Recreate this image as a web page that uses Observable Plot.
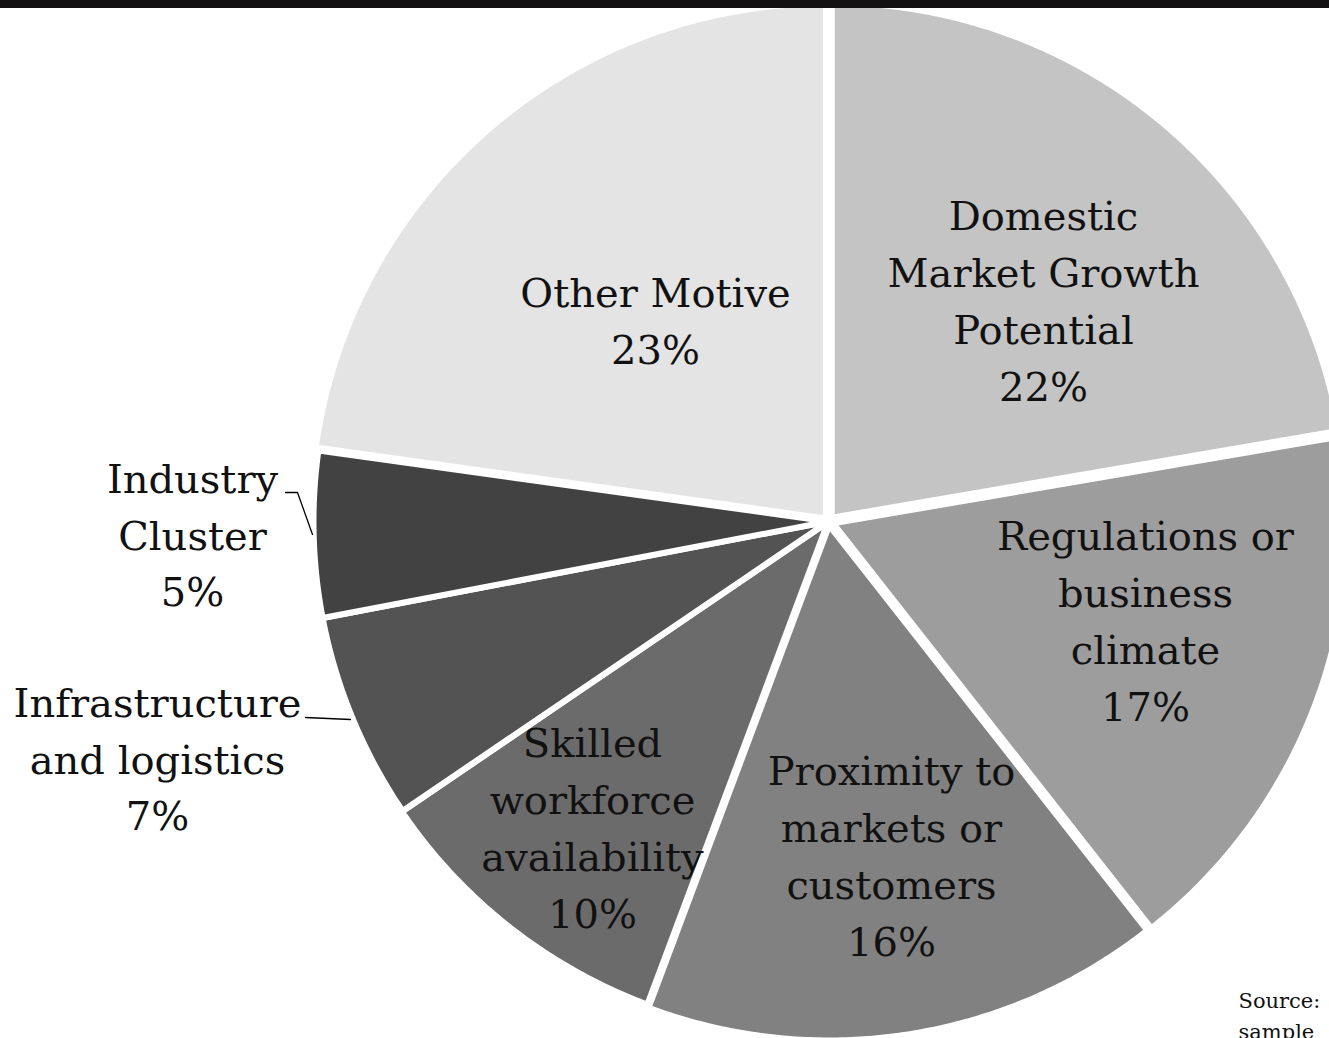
<!DOCTYPE html>
<html>
<head>
<meta charset="utf-8">
<script src="https://cdn.jsdelivr.net/npm/d3@7"></script>
<script src="https://cdn.jsdelivr.net/npm/@observablehq/plot@0.6"></script>
<style>
  html, body { margin: 0; padding: 0; background: #fff; overflow: hidden; }
  #bar { height: 8px; background: #141113; width: 1329px; }
  #chart svg { display: block; }
</style>
</head>
<body>
<div id="bar"></div>
<div id="chart"></div>
<script>
// ---- data ----
const categories = [
  "Domestic Market Growth Potential",
  "Regulations or business climate",
  "Proximity to markets or customers",
  "Skilled workforce availability",
  "Infrastructure and logistics",
  "Industry Cluster",
  "Other Motive"
];
// slice sizes (percent)
const shares = [22.3, 17.1, 16.3, 9.8, 6.5, 5.2, 22.8];
// printed percentage labels
const pctLabels = ["22%", "17%", "16%", "10%", "7%", "5%", "23%"];
const labelLines = [
  "Domestic\nMarket Growth\nPotential",
  "Regulations or\nbusiness\nclimate",
  "Proximity to\nmarkets or\ncustomers",
  "Skilled\nworkforce\navailability",
  "Infrastructure\nand logistics",
  "Industry\nCluster",
  "Other Motive"
];
const grays = ["#c4c4c4", "#9d9d9d", "#818181", "#6b6b6b", "#535353", "#424242", "#e4e4e4"];
const sourceLines = ["Source:", "sample"];

// ---- layout ----
const W = 1329, H = 1030;
const cx = 828, cy = 513, R = 515;
const explode = [5, 5, 4, 1, 0, 0, 4];
const labelPos = [
  [1043, 289], [1145, 609], [891, 844], [592, 816], [157, 747], [192, 523], [655, 309]
];

const total = d3.sum(shares);
let acc = 0;
const slices = shares.map((v, i) => {
  const a0 = acc / total * 2 * Math.PI;
  acc += v;
  const a1 = acc / total * 2 * Math.PI;
  const am = (a0 + a1) / 2;
  const ox = explode[i] * Math.sin(am), oy = -explode[i] * Math.cos(am);
  const pts = [{x: cx + ox, y: cy + oy}];
  const n = Math.max(8, Math.ceil((a1 - a0) / (Math.PI / 360)));
  for (let k = 0; k <= n; k++) {
    const t = a0 + (a1 - a0) * k / n;
    pts.push({x: cx + ox + R * Math.sin(t), y: cy + oy - R * Math.cos(t)});
  }
  pts.push({x: cx + ox, y: cy + oy});
  return {name: categories[i], color: grays[i], pts};
});

const labels = categories.map((c, i) => ({
  text: labelLines[i] + "\n" + pctLabels[i],
  x: labelPos[i][0], y: labelPos[i][1]
}));

const leaders = [
  [{x: 285, y: 484}, {x: 297, y: 484}, {x: 312, y: 526}],
  [{x: 305, y: 709}, {x: 350, y: 711}]
];

const font = "'DejaVu Serif', 'Liberation Serif', serif";

const marks = [];
slices.forEach(s => {
  marks.push(Plot.line(s.pts, {
    x: "x", y: "y", fill: s.color, stroke: "white", strokeWidth: 6,
    strokeLinejoin: "round", curve: "linear"
  }));
});
leaders.forEach(l => {
  marks.push(Plot.line(l, {x: "x", y: "y", stroke: "black", strokeWidth: 1.3}));
});
marks.push(Plot.text(labels, {
  x: "x", y: "y", text: "text", fontSize: 40, fontFamily: font,
  lineHeight: 1.42, textAnchor: "middle", fill: "#111"
}));
marks.push(Plot.text(sourceLines.map((t, i) => ({t, x: 1238, y: 993 + i * 31})), {
  x: "x", y: "y", text: "t", fontSize: 21, fontFamily: font, textAnchor: "start", fill: "#111"
}));

const chart = Plot.plot({
  width: W, height: H,
  margin: 0,
  x: {domain: [0, W], range: [0, W], axis: null},
  y: {domain: [0, H], range: [0, H], axis: null},
  style: {background: "white", overflow: "hidden"},
  marks
});
document.getElementById("chart").appendChild(chart);
</script>
</body>
</html>
